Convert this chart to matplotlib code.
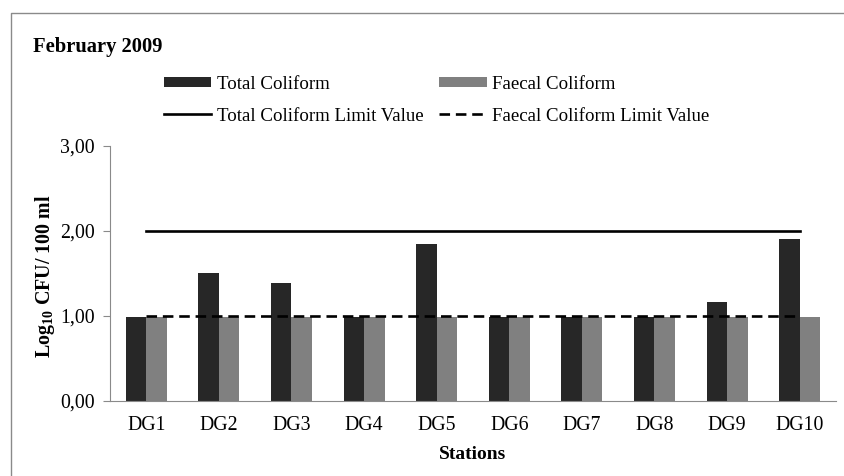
import numpy as np
import matplotlib
matplotlib.use('Agg')
import matplotlib.pyplot as plt
from matplotlib.lines import Line2D
from matplotlib.patches import Patch
from matplotlib.ticker import FuncFormatter

plt.rcParams['font.family'] = ['Liberation Serif', 'DejaVu Serif']
plt.rcParams['mathtext.default'] = 'regular'

stations = ['DG1', 'DG2', 'DG3', 'DG4', 'DG5', 'DG6', 'DG7', 'DG8', 'DG9', 'DG10']
total_coliform = [0.99, 1.50, 1.39, 0.99, 1.85, 0.99, 0.99, 0.99, 1.17, 1.90]
faecal_coliform = [0.99, 0.99, 0.99, 0.99, 0.99, 0.99, 0.99, 0.99, 0.99, 0.99]
total_limit = 2.0
faecal_limit = 1.0

dark = '#272727'
grey = '#808080'
axis_grey = '#8a8a8a'

fig = plt.figure(figsize=(8.44, 4.76), dpi=100)
ax = fig.add_axes([0.1303, 0.1576, 0.8602, 0.5357])

x = np.arange(len(stations))
w = 0.283
ax.bar(x - w / 2, total_coliform, w, color=dark, label='Total Coliform')
ax.bar(x + w / 2, faecal_coliform, w, color=grey, label='Faecal Coliform')
ax.plot([x[0], x[-1]], [total_limit, total_limit], color='black', lw=1.9)
ax.plot([x[0], x[-1]], [faecal_limit, faecal_limit], color='black', lw=1.9,
        linestyle=(0, (4, 2.2)))

ax.set_xlim(-0.5, len(stations) - 0.5)
ax.set_ylim(0, 3)
ax.set_yticks([0, 1, 2, 3])
ax.yaxis.set_major_formatter(FuncFormatter(lambda v, p: f'{v:.2f}'.replace('.', ',')))
ax.set_xticks(x)
ax.set_xticklabels(stations)
ax.tick_params(axis='x', length=0, pad=10.5, labelsize=14.3)
ax.tick_params(axis='y', length=5, pad=6, color=axis_grey, labelsize=14.3)
for s in ['top', 'right']:
    ax.spines[s].set_visible(False)
for s in ['left', 'bottom']:
    ax.spines[s].set_color(axis_grey)

ax.set_xlabel('Stations', fontsize=14, fontweight='bold', labelpad=8)
ax.set_ylabel('Log$_{10}$ CFU/ 100 ml', fontsize=14.4, fontweight='bold', va='center')
ax.yaxis.set_label_coords(-0.0895, 0.49)

fig.text(33 / 844, 1 - 47 / 476, 'February 2009', fontsize=14.8, fontweight='bold',
         va='center', ha='left')

handles = [
    Patch(facecolor=dark, edgecolor='none'),
    Line2D([], [], color='black', lw=1.9),
    Patch(facecolor=grey, edgecolor='none'),
    Line2D([], [], color='black', lw=1.9, linestyle=(0, (4, 2.2))),
]
labels = ['Total Coliform', 'Total Coliform Limit Value',
          'Faecal Coliform', 'Faecal Coliform Limit Value']
fig.legend(handles, labels, ncol=2, loc='upper left',
           bbox_to_anchor=(160 / 844, 1 - 72 / 476), frameon=False,
           fontsize=13.6, handlelength=2.5, handleheight=0.5, handletextpad=0.3,
           columnspacing=0.85, labelspacing=0.78, borderaxespad=0, borderpad=0.2)

# outer frame
fig.add_artist(Line2D([11 / 844, 11 / 844, 1.0], [0.0, 1 - 13 / 476, 1 - 13 / 476],
                      transform=fig.transFigure, color=axis_grey, lw=1.0))

fig.savefig('out.png', dpi=100)
